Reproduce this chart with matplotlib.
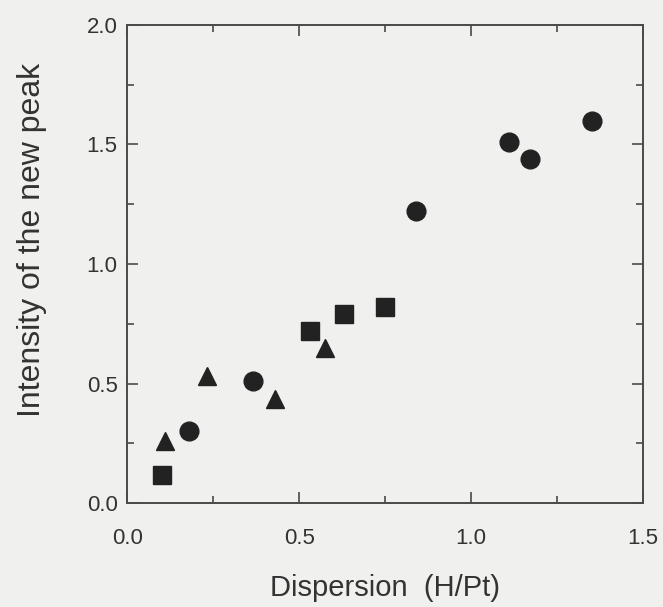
import matplotlib
matplotlib.use("Agg")
import matplotlib.pyplot as plt
from matplotlib.ticker import MultipleLocator, FormatStrFormatter

circle_x = [0.18, 0.365, 0.84, 1.11, 1.17, 1.35]
circle_y = [0.30, 0.51, 1.22, 1.51, 1.44, 1.60]
square_x = [0.10, 0.53, 0.63, 0.75]
square_y = [0.12, 0.72, 0.79, 0.82]
tri_x = [0.11, 0.233, 0.43, 0.575]
tri_y = [0.26, 0.53, 0.435, 0.65]

plt.rcParams['font.family'] = ['Liberation Sans', 'DejaVu Sans']
bg = '#f0f0ef'
mc = '#222222'
fig = plt.figure(figsize=(6.63, 6.07), dpi=100, facecolor=bg)
ax = fig.add_axes([0.192, 0.171, 0.778, 0.788], facecolor=bg)

ax.plot(circle_x, circle_y, 'o', color=mc, markersize=13.5, linestyle='none')
ax.plot(square_x, square_y, 's', color=mc, markersize=13, linestyle='none')
ax.plot(tri_x, tri_y, '^', color=mc, markersize=13, linestyle='none')

ax.set_xlim(0, 1.5)
ax.set_ylim(0, 2.0)
ax.xaxis.set_major_locator(MultipleLocator(0.5))
ax.xaxis.set_minor_locator(MultipleLocator(0.25))
ax.yaxis.set_major_locator(MultipleLocator(0.5))
ax.yaxis.set_minor_locator(MultipleLocator(0.25))
ax.xaxis.set_major_formatter(FormatStrFormatter('%.1f'))
ax.yaxis.set_major_formatter(FormatStrFormatter('%.1f'))
ax.tick_params(which='both', direction='in', top=True, right=True, color='#4a4a4a',
               labelsize=16, labelcolor='#333333', width=1.2)
ax.tick_params(which='major', length=8)
ax.tick_params(which='minor', length=5)
ax.tick_params(axis='x', which='major', pad=18)
ax.tick_params(axis='y', which='major', pad=7)
for s in ax.spines.values():
    s.set_color('#4a4a4a')
    s.set_linewidth(1.4)

ax.set_xlabel('Dispersion  (H/Pt)', fontsize=21, color='#333333', labelpad=18)
ax.set_ylabel('Intensity of the new peak', fontsize=23, color='#333333')
ax.yaxis.set_label_coords(-0.155, 0.55)

fig.savefig('out.png', dpi=100, facecolor=bg)
